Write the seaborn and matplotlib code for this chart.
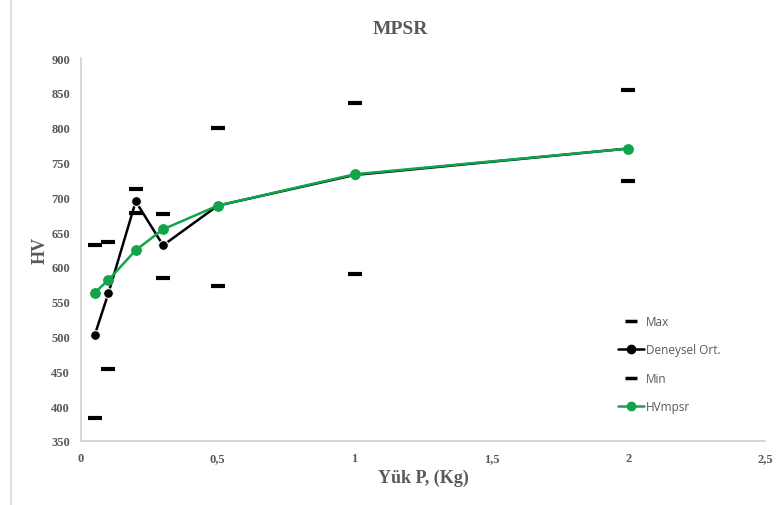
import matplotlib
matplotlib.use("Agg")
import matplotlib.pyplot as plt
import seaborn as sns
from matplotlib.lines import Line2D

# values
load = [0.05, 0.1, 0.2, 0.3, 0.5, 1, 2]
hv_max = [631, 636, 712, 676, 800, 835, 854]
hv_avg = [502, 562, 694, 631, 688, 732, 770]
hv_min = [383, 453, 677, 584, 572, 590, 723]
hv_mpsr = [563, 581, 624, 654, 688, 733, 770]

sns.set_style("white")
plt.rcParams['font.family'] = ['Liberation Serif', 'DejaVu Serif']

fig = plt.figure(figsize=(7.78, 5.06), dpi=100)
ax = fig.add_axes([81 / 778, 1 - 442 / 506, (765 - 81) / 778, (442 - 59) / 506])

green = "#10a54a"
sns.scatterplot(x=load, y=hv_max, marker="_", s=110, linewidth=3, color="black", ax=ax, label="Max", zorder=3)
sns.lineplot(x=load, y=hv_avg, color="black", marker="o", markersize=7, linewidth=1.8, ax=ax,
             label="Deneysel Ort.", zorder=4)
sns.scatterplot(x=load, y=hv_min, marker="_", s=110, linewidth=3, color="black", ax=ax, label="Min", zorder=3)
sns.lineplot(x=load, y=hv_mpsr, color=green, marker="o", markersize=7, markeredgecolor=green, linewidth=1.8,
             ax=ax, label="HVmpsr", zorder=5)

ax.set_xlim(0, 2.5)
ax.set_ylim(350, 900)
ax.set_xticks([0, 0.5, 1, 1.5, 2, 2.5])
ax.set_xticklabels(["0", "0,5", "1", "1,5", "2", "2,5"])
ax.set_yticks(range(350, 901, 50))

grey = "#595959"
for s in ["top", "right"]:
    ax.spines[s].set_visible(False)
for s in ["left", "bottom"]:
    ax.spines[s].set_color("#d0d0d0")
    ax.spines[s].set_linewidth(1.2)
ax.tick_params(length=0, labelsize=9, colors=grey, pad=8)
for t in ax.get_xticklabels() + ax.get_yticklabels():
    t.set_fontweight("bold")

ax.set_xlabel("Yük P, (Kg)", fontsize=13, fontweight="bold", color=grey, labelpad=3)
ax.set_ylabel("HV", fontsize=13, fontweight="bold", color=grey, labelpad=2)
fig.text(0.515, 1 - 30 / 506, "MPSR", ha="center", va="center", fontsize=14, fontweight="bold", color=grey)

handles = [
    Line2D([], [], color="black", marker="_", linestyle="", markersize=9, markeredgewidth=2.5),
    Line2D([], [], color="black", marker="o", markersize=6, linewidth=1.8),
    Line2D([], [], color="black", marker="_", linestyle="", markersize=9, markeredgewidth=2.5),
    Line2D([], [], color=green, marker="o", markersize=6, linewidth=1.8),
]
leg = ax.legend(handles, ["Max", "Deneysel Ort.", "Min", "HVmpsr"], loc="lower right",
                bbox_to_anchor=(0.95, 0.045), frameon=False, handlelength=2.2, handletextpad=0.1,
                labelspacing=1.3, prop={"family": "Open Sans", "size": 8.5})
for t in leg.get_texts():
    t.set_color(grey)

# chart-area border on the left
fig.add_artist(Line2D([11 / 778, 11 / 778], [0, 1], color="#d9d9d9", linewidth=1.2))

fig.savefig("out.png", dpi=100)
